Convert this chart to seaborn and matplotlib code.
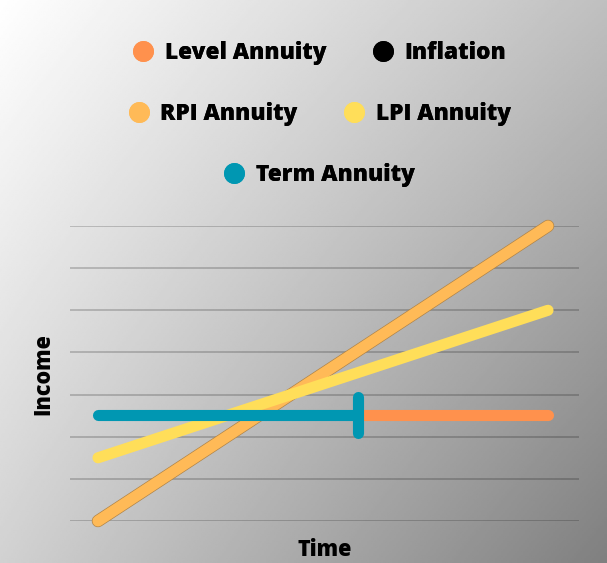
import numpy as np
import pandas as pd
import matplotlib
matplotlib.use("Agg")
import matplotlib.pyplot as plt
import matplotlib.patheffects as pe
from matplotlib.lines import Line2D
import seaborn as sns

# ---- data (income in grid units, time 0..10) ----
series_names = ["Level Annuity", "Inflation", "RPI Annuity", "LPI Annuity", "Term Annuity"]
series_colors = ["#FF914D", "#000000", "#FFBA57", "#FFDE59", "#0097B2"]

rpi_time = [0, 10]
rpi_income = [0.0, 7.0]
lpi_time = [0, 10]
lpi_income = [1.5, 5.0]
term_time = [0, 5.78]
term_income = [2.52, 2.52]
level_time = [5.78, 10]
level_income = [2.52, 2.52]
term_end_tick = [2.1, 2.94]
grid_levels = [0, 1, 2, 3, 4, 5, 6, 7]

sns.set_theme(style="white")
plt.rcParams["font.family"] = ["Open Sans", "DejaVu Sans"]
plt.rcParams["text.color"] = "black"

W, H = 607, 563
fig = plt.figure(figsize=(W / 100, H / 100), dpi=100)

# background gradient
bg = fig.add_axes([0, 0, 1, 1], zorder=-10)
gx, gy = np.meshgrid(np.linspace(0, 1, 300), np.linspace(0, 1, 300))
val = 1.0 - 0.25 * gx - 0.18 * gy - 0.07 * gx * gy
bg.imshow(val, cmap="gray", vmin=0, vmax=1, extent=[0, 1, 1, 0], aspect="auto")
bg.set_xlim(0, 1); bg.set_ylim(1, 0)
bg.axis("off")

ax = fig.add_axes([70 / W, 42 / H, 509 / W, 295 / H])
ax.patch.set_alpha(0)
ax.set_xlim(-28 / 45, 10 + 31 / 45)
ax.set_ylim(0, 7)
for g in grid_levels:
    ax.axhline(g, color="#000000", alpha=0.22, lw=1.2, zorder=0)

n_grid = len(ax.lines)
lw = 8.0
df = pd.concat([
    pd.DataFrame({"time": rpi_time, "income": rpi_income, "series": "RPI Annuity"}),
    pd.DataFrame({"time": lpi_time, "income": lpi_income, "series": "LPI Annuity"}),
    pd.DataFrame({"time": level_time, "income": level_income, "series": "Level Annuity"}),
    pd.DataFrame({"time": term_time, "income": term_income, "series": "Term Annuity"}),
])
order = ["RPI Annuity", "LPI Annuity", "Level Annuity", "Term Annuity"]
pal = dict(zip(series_names, series_colors))
for i, name in enumerate(order):
    sub = df[df["series"] == name]
    sns.lineplot(data=sub, x="time", y="income", color=pal[name], lw=lw,
                 ax=ax, legend=False, estimator=None, sort=False,
                 solid_capstyle="round", zorder=2 + i)
data_lines = ax.lines[n_grid:]
for ln in data_lines:
    ln.set_clip_on(False)
# thin darker outline on the RPI line
data_lines[0].set_path_effects([pe.Stroke(linewidth=lw + 1.0, foreground="#B08448"), pe.Normal()])
ax.vlines(term_time[-1], term_end_tick[0], term_end_tick[1], color=pal["Term Annuity"],
          lw=lw, capstyle="round", zorder=7, clip_on=False)

for s in ax.spines.values():
    s.set_visible(False)
ax.set_xticks([]); ax.set_yticks([])
ax.set_xlabel(""); ax.set_ylabel("")

fig.text(325 / W, 1 - 550 / H, "Time", ha="center", va="center",
         fontsize=15.5, fontweight=800, color="black")
fig.text(43 / W, 1 - 374 / H, "Income", ha="center", va="center", rotation=90,
         fontsize=15.5, fontweight=800, color="black")

def handle(c):
    return Line2D([], [], ls="none", marker="o", markersize=15, markerfacecolor=c,
                  markeredgecolor="none")

rows = [(["Level Annuity", "Inflation"], 53), (["RPI Annuity", "LPI Annuity"], 114),
        (["Term Annuity"], 175)]
for names, yc in rows:
    leg = fig.legend([handle(pal[n]) for n in names], names, loc="center",
                     bbox_to_anchor=(319 / W, 1 - yc / H), ncol=len(names), frameon=False,
                     prop={"size": 16.3, "weight": 800}, handlelength=1.0,
                     handletextpad=0.45, columnspacing=2.0, labelcolor="black")
    fig.add_artist(leg)

fig.savefig("out.png", dpi=100)
